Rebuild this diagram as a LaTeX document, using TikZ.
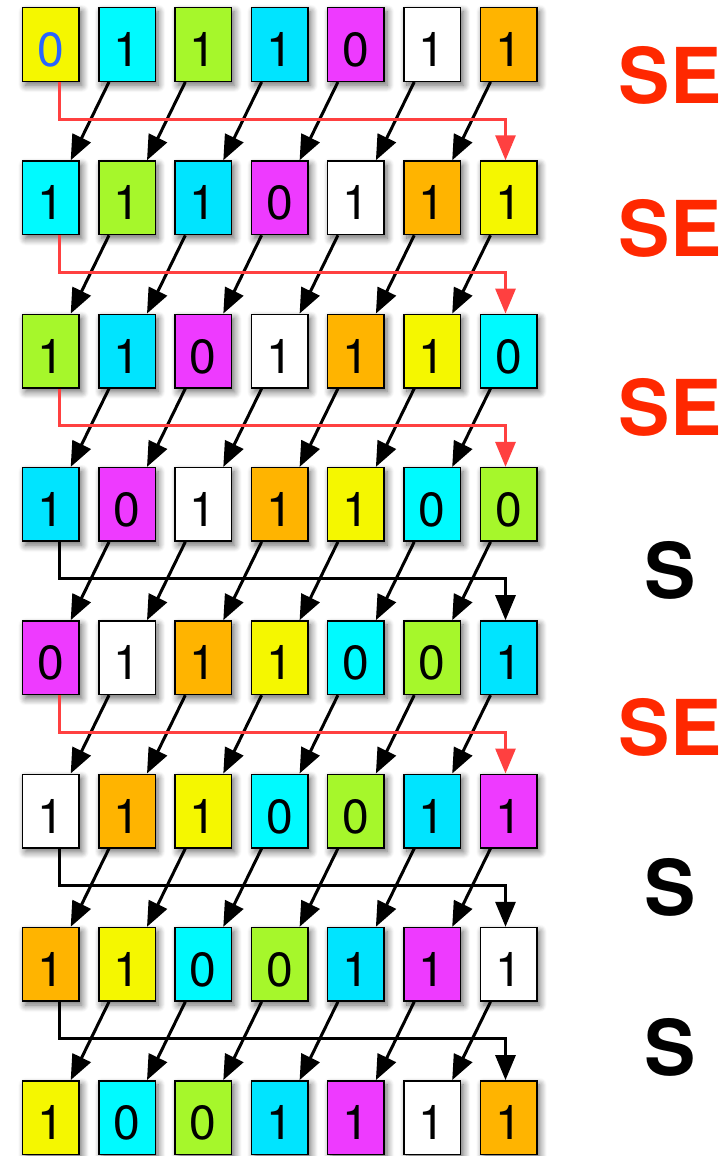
\documentclass[tikz,border=0pt]{standalone}
\usepackage{fontspec}
\setmainfont{TeX Gyre Heros}
\usetikzlibrary{arrows.meta,shadows.blur}
\definecolor{c0}{RGB}{245,247,0}
\definecolor{c1}{RGB}{0,250,255}
\definecolor{c2}{RGB}{166,247,43}
\definecolor{c3}{RGB}{0,228,255}
\definecolor{c4}{RGB}{238,58,255}
\definecolor{c5}{RGB}{255,255,255}
\definecolor{c6}{RGB}{255,180,0}
\definecolor{zeroblue}{RGB}{40,100,255}
\definecolor{fbred}{RGB}{255,64,64}
\definecolor{labred}{RGB}{255,40,0}
\tikzset{
  cell/.style={draw=black,line width=1.5pt,minimum width=56.5pt,minimum height=73.5pt,
    inner sep=0pt,text height=44pt,text depth=0pt,font=\fontsize{48}{48}\selectfont,
    blur shadow={shadow xshift=3pt,shadow yshift=-4pt,shadow blur radius=7pt,
      shadow blur steps=10,shadow opacity=60}},
  shiftarrow/.style={line width=3pt,-{Triangle[length=25pt,width=20pt]}},
  fbSE/.style={draw=fbred,line width=3pt,-{Triangle[length=25pt,width=20pt]}},
  fbS/.style={draw=black,line width=3pt,-{Triangle[length=25pt,width=20pt]}},
  opSE/.style={text=labred,font=\fontsize{77}{77}\selectfont\bfseries},
  opS/.style={text=black,font=\fontsize{77}{77}\selectfont\bfseries}
}
\begin{document}
\begin{tikzpicture}[x=1pt,y=-1pt]
\useasboundingbox (0,0) rectangle (724,1156);
\foreach \bits [count=\j from 0] in {{{\color{zeroblue}0},1,1,1,0,1,1},{1,1,1,0,1,1,1},
  {1,1,0,1,1,1,0},{1,0,1,1,1,0,0},{0,1,1,1,0,0,1},{1,1,1,0,0,1,1},
  {1,1,0,0,1,1,1},{1,0,0,1,1,1,1}}
  \foreach \b [count=\i from 0] in \bits {
    \pgfmathtruncatemacro\k{mod(\i+\j,7)}
    \node[cell,fill=c\k] (b-\j-\i) at ({50.7+76.3*\i},{44.5+153.3*\j}) {\b};
  }
\foreach \op/\yy [count=\j from 0] in {SE/75,SE/228,SE/407,S/570,SE/727,S/887,S/1047} {
  \pgfmathtruncatemacro\jj{\j+1}
  \node[op\op] (op-\j) at (670,\yy) {\op};
  \foreach \i in {1,...,6} {
    \pgfmathtruncatemacro\ii{\i-1}
    \draw[shiftarrow] ([xshift=11pt]b-\j-\i.south west) -- ([xshift=-9pt]b-\jj-\ii.north east);
  }
  \draw[fb\op] ([xshift=9pt]b-\j-0.south) -- ++(0,37) -| ([xshift=-3pt]b-\jj-6.north);
}
\end{tikzpicture}
\end{document}
